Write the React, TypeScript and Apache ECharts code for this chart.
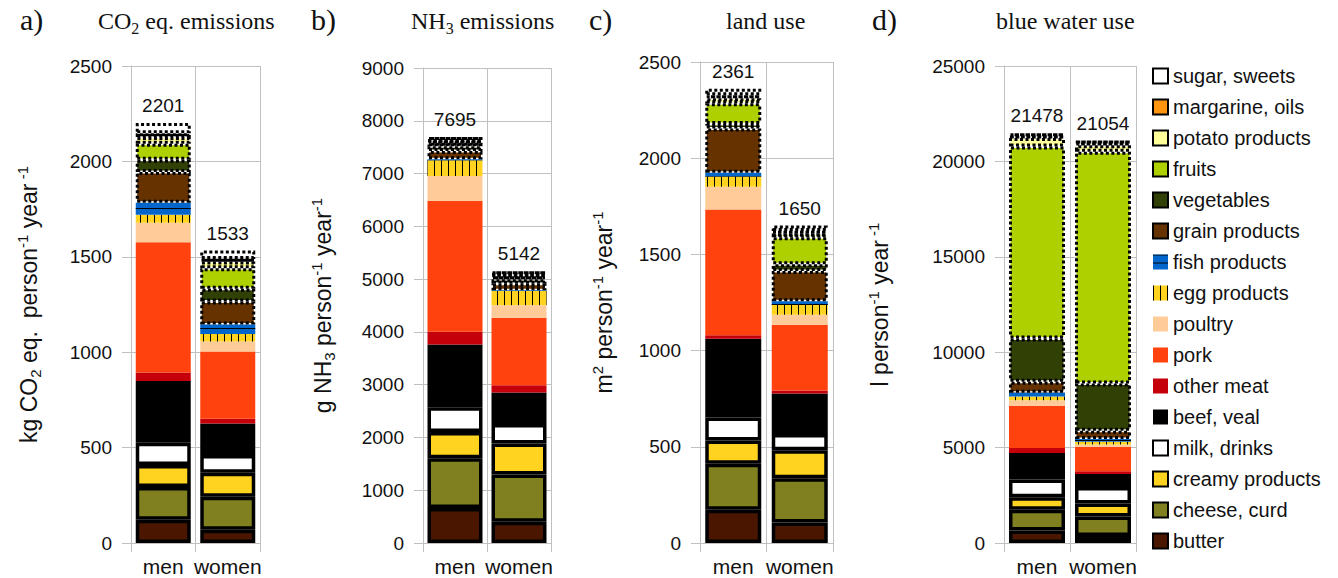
import React, { useEffect, useRef } from 'react';
import * as echarts from 'echarts';

const categories = ['men', 'women'];
const foodGroups = [
  'butter', 'cheese, curd', 'creamy products', 'milk, drinks', 'beef, veal', 'other meat', 'pork', 'poultry',
  'egg products', 'fish products', 'grain products', 'vegetables', 'fruits', 'potato products', 'margarine, oils', 'sugar, sweets',
];

const co2Men = [122, 171, 116, 116, 324, 44, 683, 102, 43, 62, 161, 64, 85, 35, 19, 54];
const co2Women = [70, 172, 126, 93, 165, 25, 353, 52, 39, 50, 121, 67, 107, 35, 13, 45];
const co2Totals = [2201, 1533];

const nh3Men = [664, 943, 496, 469, 1188, 244, 2481, 468, 301, 16, 158, 91, 63, 35, 21, 57];
const nh3Women = [405, 895, 587, 370, 594, 140, 1279, 237, 266, 17, 123, 83, 56, 28, 21, 41];
const nh3Totals = [7695, 5142];

const landMen = [173, 239, 121, 119, 409, 19, 653, 118, 54, 19, 231, 23, 107, 27, 15, 34];
const landWomen = [106, 230, 146, 84, 211, 15, 342, 52, 51, 20, 157, 35, 140, 19, 13, 29];
const landTotals = [2361, 1650];

const waterMen = [658, 1083, 658, 929, 1393, 252, 2225, 290, 194, 193, 581, 2264, 10062, 445, 96, 155];
const waterWomen = [368, 1025, 677, 871, 677, 136, 1277, 135, 136, 155, 425, 2477, 12152, 329, 135, 79];
const waterTotals = [21478, 21054];

const yMaxes = [2500, 9000, 2500, 25000];
const yIntervals = [500, 1000, 500, 5000];

const panelLetters = ['a)', 'b)', 'c)', 'd)'];
const panelTitles = [
  '{n|CO}{sub|2}{n| eq. emissions}',
  '{n|NH}{sub|3}{n| emissions}',
  '{n|land use}',
  '{n|blue water use}',
];
const axisNames = [
  '{n|kg CO}{sub|2}{n| eq.  person}{sup|-1}{n| year}{sup| -1}',
  '{n|g NH}{sub|3}{n| person}{sup|-1}{n| year}{sup|-1}',
  '{n|m}{sup|2}{n| person}{sup|-1}{n| year}{sup|-1}',
  '{n|l person}{sup|-1}{n| year}{sup| -1}',
];

// styles
const colors = [
  '#4a1600', '#808020', '#ffd320', '#ffffff', '#000000', '#c5000b', '#ff420e', '#ffcc99',
  '#ffd320', '#0066cc', '#663300', '#314004', '#aecf00', '#ffff99', '#ff950e', '#ffffff',
];
const grids = [
  { left: 131, top: 66, width: 129, height: 477 },
  { left: 423, top: 68, width: 128, height: 475 },
  { left: 700, top: 62, width: 133, height: 481 },
  { left: 1004, top: 66, width: 132, height: 477 },
];
const barWidths = [55, 55, 56, 56];
const titlePos = [
  { lx: 20, tx: 98 },
  { lx: 311, tx: 411 },
  { lx: 589, tx: 726 },
  { lx: 872, tx: 996 },
];
const nameGaps = [88, 86, 82, 110];

const SANS = 'Liberation Sans, Arial, sans-serif';
const SERIF = 'Liberation Serif, Times New Roman, serif';
const GRAY = '#c0c0c0';

function itemStyleFor(i: number): any {
  const base: any = { color: colors[i] };
  if (i <= 3) {
    return { ...base, borderColor: '#000', borderWidth: 3.5 };
  }
  if (i >= 10) {
    return { ...base, borderColor: '#000', borderWidth: 3, borderType: [3, 2.5] };
  }
  if (i === 8) {
    return {
      ...base,
      decal: { symbol: 'rect', symbolSize: 1, color: '#000', dashArrayX: [1, 6], dashArrayY: [1, 0], rotation: 0 },
    };
  }
  if (i === 9) {
    return {
      ...base,
      decal: { symbol: 'rect', symbolSize: 1, color: '#000', dashArrayX: [1, 0], dashArrayY: [1, 7], rotation: 0 },
    };
  }
  return base;
}

export default function App() {
  const ref = useRef<HTMLDivElement>(null);
  useEffect(() => {
    if (!ref.current) return;
    const chart = echarts.init(ref.current, undefined, { renderer: 'svg' });
    const panels = [
      { men: co2Men, women: co2Women, totals: co2Totals },
      { men: nh3Men, women: nh3Women, totals: nh3Totals },
      { men: landMen, women: landWomen, totals: landTotals },
      { men: waterMen, women: waterWomen, totals: waterTotals },
    ];

    const titles: any[] = [];
    panelLetters.forEach((l, p) => {
      titles.push({
        text: l, left: titlePos[p].lx, top: 4, padding: 0,
        textStyle: { fontFamily: SERIF, fontSize: 30, fontWeight: 'normal', color: '#111' },
      });
      titles.push({
        text: panelTitles[p], left: titlePos[p].tx, top: 6, padding: 0,
        textStyle: {
          fontWeight: 'normal',
          rich: {
            n: { fontFamily: SERIF, fontSize: 24, fontWeight: 'normal', color: '#111', lineHeight: 30, verticalAlign: 'middle' },
            sub: { fontFamily: SERIF, fontSize: 16, fontWeight: 'normal', color: '#111', lineHeight: 13, verticalAlign: 'bottom' },
          },
        },
      });
    });

    const nameRich = {
      n: { fontFamily: SANS, fontSize: 23, color: '#111', lineHeight: 28, verticalAlign: 'middle' },
      sub: { fontFamily: SANS, fontSize: 15, color: '#111', lineHeight: 12, verticalAlign: 'bottom' },
      sup: { fontFamily: SANS, fontSize: 15, color: '#111', lineHeight: 12, verticalAlign: 'top' },
    };

    const xAxis = grids.map((_, p) => ({
      type: 'category', gridIndex: p, data: categories,
      axisLine: { show: true, lineStyle: { color: GRAY } },
      axisTick: { show: true, length: 9, lineStyle: { color: GRAY } },
      axisLabel: { fontFamily: SANS, fontSize: 21, color: '#111', margin: 13, interval: 0 },
      splitLine: { show: true, lineStyle: { color: GRAY } },
    }));
    const yAxis = grids.map((_, p) => ({
      type: 'value', gridIndex: p, min: 0, max: yMaxes[p], interval: yIntervals[p],
      axisLine: { show: true, lineStyle: { color: GRAY } },
      axisTick: { show: true, length: 9, lineStyle: { color: GRAY } },
      axisLabel: { fontFamily: SANS, fontSize: 19, color: '#111', margin: 19, formatter: (v: number) => String(v) },
      splitLine: { show: true, lineStyle: { color: GRAY } },
      name: axisNames[p], nameLocation: 'middle', nameRotate: 90, nameGap: nameGaps[p],
      nameTextStyle: { rich: nameRich },
    }));

    const series: any[] = [];
    panels.forEach((panel, p) => {
      foodGroups.forEach((g, i) => {
        const s: any = {
          type: 'bar', name: g, xAxisIndex: p, yAxisIndex: p, stack: 'panel' + p,
          barWidth: barWidths[p],
          data: [panel.men[i], panel.women[i]],
          itemStyle: itemStyleFor(i),
          emphasis: { disabled: true },
        };
        if (i === foodGroups.length - 1) {
          s.label = {
            show: true, position: 'top', distance: 8, fontFamily: SANS, fontSize: 19, color: '#111',
            formatter: (prm: any) => String(panel.totals[prm.dataIndex]),
          };
        }
        series.push(s);
      });
    });

    chart.setOption({
      animation: false,
      backgroundColor: '#fff',
      title: titles,
      grid: grids.map(g => ({ ...g })),
      xAxis, yAxis,
      legend: {
        orient: 'vertical', left: 1152, top: 66, padding: 0,
        icon: 'rect',
        itemWidth: 15, itemHeight: 15, itemGap: 11,
        selectedMode: false,
        data: [...foodGroups].reverse(),
        textStyle: { fontFamily: SANS, fontSize: 20, color: '#111' },
      },
      series,
    });
    return () => chart.dispose();
  }, []);
  return <div ref={ref} style={{ position: 'fixed', left: 0, top: 0, width: 1338, height: 578 }} />;
}
